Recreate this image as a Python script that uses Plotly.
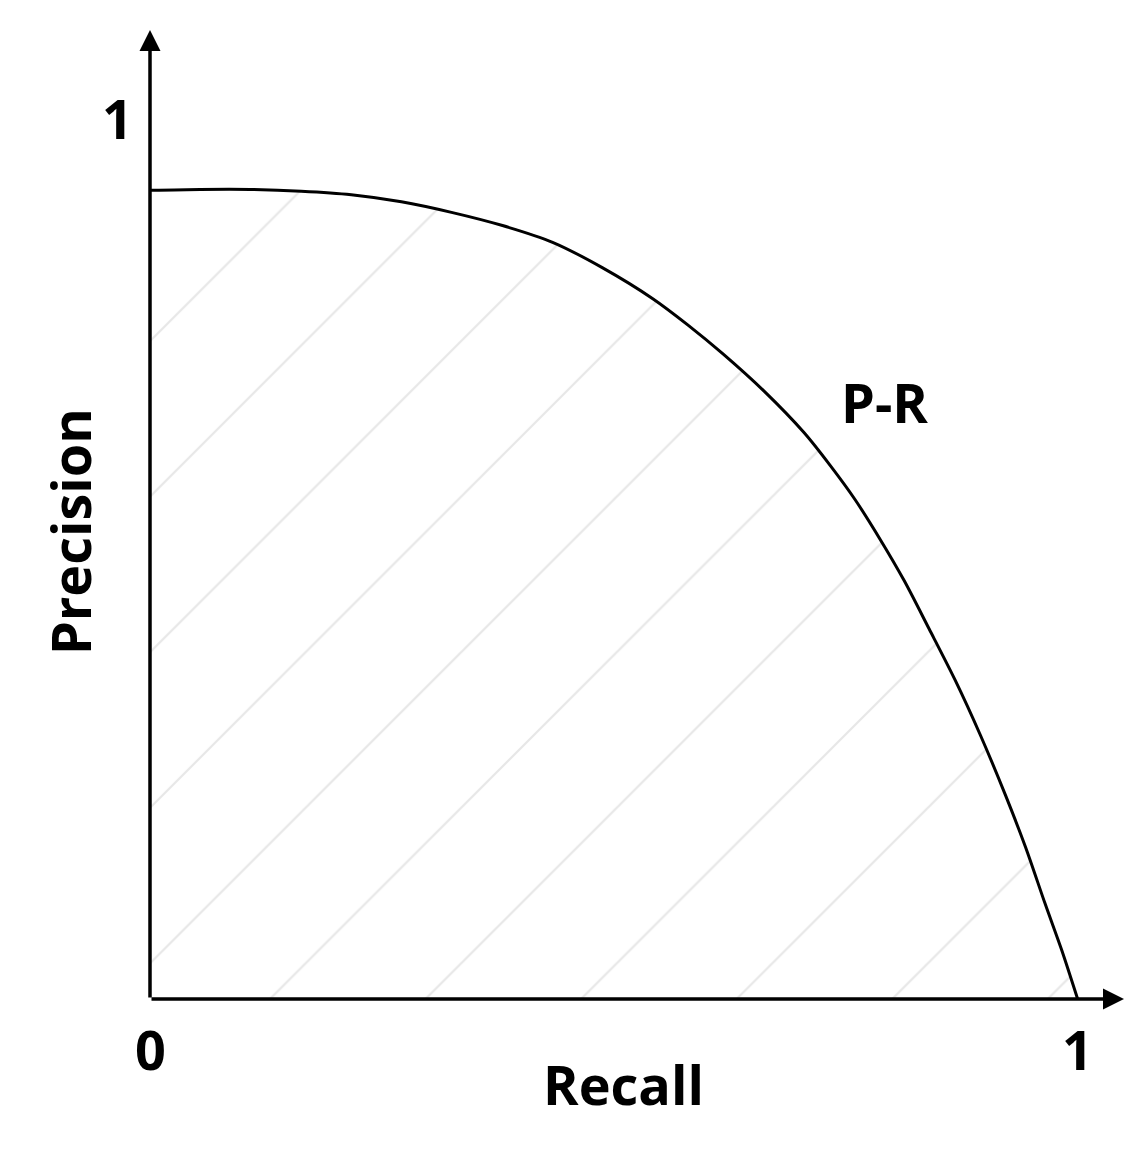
import plotly.graph_objects as go

recall = [0, 0.054, 0.108, 0.163, 0.217, 0.271, 0.325, 0.380, 0.434, 0.488, 0.542, 0.580, 0.618, 0.662, 0.705, 0.733, 0.76, 0.787, 0.813, 0.840, 0.868, 0.895, 0.922, 0.944, 0.965, 0.983, 1.0]
precision = [0.918, 0.919, 0.919, 0.917, 0.913, 0.905, 0.893, 0.878, 0.859, 0.830, 0.795, 0.765, 0.732, 0.690, 0.643, 0.606, 0.567, 0.522, 0.475, 0.420, 0.362, 0.300, 0.232, 0.172, 0.108, 0.055, 0.0]

F = dict(family="Open Sans, Liberation Sans, sans-serif", size=54, color="black")

fig = go.Figure(go.Scatter(
    x=recall, y=precision, mode="lines", line=dict(color="black", width=3, shape="spline", smoothing=0.8),
    fill="tozeroy", fillcolor="rgba(0,0,0,0)",
    fillpattern=dict(shape="/", fgcolor="#cfcfcf", bgcolor="white", size=110, solidity=0.02),
    showlegend=False))

fig.update_layout(
    width=1144, height=1152, plot_bgcolor="white", paper_bgcolor="white",
    margin=dict(l=142, r=28, t=22, b=161),
    xaxis=dict(range=[0, 1.05], visible=False),
    yaxis=dict(range=[0, 1.1], visible=False),
)
fig.add_annotation(x=1.05, y=0, ax=0, ay=0, xref="x", yref="y", axref="x", ayref="y",
                   showarrow=True, arrowhead=2, arrowsize=1.2, arrowwidth=3.5, arrowcolor="black", text="")
fig.add_annotation(x=0, y=1.1, ax=0, ay=0, xref="x", yref="y", axref="x", ayref="y",
                   showarrow=True, arrowhead=2, arrowsize=1.2, arrowwidth=3.5, arrowcolor="black", text="")
bold = lambda s: "<b>%s</b>" % s
fig.add_annotation(x=0, y=0, text=bold("0"), showarrow=False, yshift=-50, font=F)
fig.add_annotation(x=1, y=0, text=bold("1"), showarrow=False, yshift=-50, font=F)
fig.add_annotation(x=0, y=1, text=bold("1"), showarrow=False, xshift=-33, font=F)
fig.add_annotation(x=0.51, y=0, text=bold("Recall"), showarrow=False, yshift=-85, font=F)
fig.add_annotation(x=0, y=0.53, text=bold("Precision"), showarrow=False, xshift=-80, textangle=-90, font=F)
fig.add_annotation(x=0.792, y=0.678, text=bold("P-R"), showarrow=False, font=F)

fig.write_html("out.html")
